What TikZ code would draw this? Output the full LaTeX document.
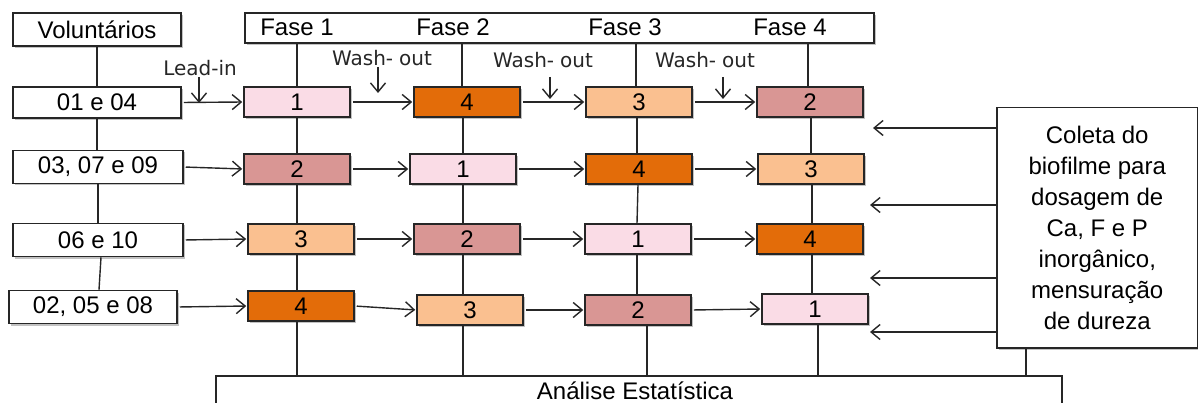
\documentclass[tikz,border=0pt]{standalone}
\usepackage{fontspec}
\setmainfont{Liberation Sans}
\newfontfamily\labfont{DejaVu Sans}
\usetikzlibrary{arrows.meta,shadows}
\definecolor{pk}{HTML}{FADCE6}
\definecolor{rs}{HTML}{D99694}
\definecolor{org}{HTML}{E36C09}
\definecolor{lor}{HTML}{FAC090}
\definecolor{shd}{HTML}{9A9A9A}
\begin{document}
\begin{tikzpicture}[x=1pt,y=-1pt,
  shd/.style={drop shadow={shadow xshift=2pt,shadow yshift=-2pt,fill=shd,opacity=0.6}},
  box/.style={draw=black!85,line width=1.5pt,inner sep=0pt,minimum height=30pt,
    font=\fontsize{24}{28}\selectfont,shd},
  rowbox/.style={box,fill=white,minimum width=168pt,minimum height=32pt},
  ph/.style={box,minimum width=106pt,minimum height=30pt},
  txt/.style={inner sep=0pt,font=\fontsize{24}{28}\selectfont},
  lab/.style={inner sep=1pt,font=\labfont\fontsize{20}{24}\selectfont,text=black!85},
  ln/.style={line width=1.4pt,draw=black!85},
  arr/.style={ln,-{Straight Barb[length=9pt,width=15pt,line width=1.4pt]}}]
\useasboundingbox (0,0) rectangle (1198,403);

% bottom box
\node[draw=black!85,line width=1.5pt,anchor=north west,minimum width=846pt,minimum height=50pt,inner sep=0pt] (bot) at (215,375) {};
\node[txt] (botl) at (635,391) {Análise Estatística};

% right box
\node[draw=black!85,line width=1.5pt,fill=white,anchor=north west,minimum width=201pt,minimum height=240pt,
  inner sep=0pt,align=center,font=\fontsize{24}{31}\selectfont,shd] (rb) at (996,107)
  {Coleta do\\biofilme para\\dosagem de\\Ca, F e P\\inorgânico,\\mensuração\\de dureza};

% header
\node[rowbox,minimum width=629pt,minimum height=30pt] (hdr) at (559.5,28) {};
\node[txt] (f1) at (297,27) {Fase 1};
\node[txt] (f2) at (453,27) {Fase 2};
\node[txt] (f3) at (625,27) {Fase 3};
\node[txt] (f4) at (790,27) {Fase 4};

% left column
\node[rowbox,minimum height=33pt] (v) at (97,29.5) {Voluntários};
\node[rowbox,minimum height=31pt] (r1) at (97,102.5) {01 e 04};
\node[rowbox,minimum width=170pt,minimum height=33pt] (r2) at (98,167) {03, 07 e 09};
\node[rowbox,minimum width=170pt,minimum height=33pt] (r3) at (98,240) {06 e 10};
\node[rowbox,minimum height=33pt] (r4) at (93,307) {02, 05 e 08};

% phase boxes
\node[ph,fill=pk]  (b11) at (297,102) {1};
\node[ph,fill=org] (b12) at (467,102) {4};
\node[ph,fill=lor] (b13) at (639,102) {3};
\node[ph,fill=rs]  (b14) at (810,102) {2};

\node[ph,fill=rs]  (b21) at (297,169) {2};
\node[ph,fill=pk]  (b22) at (463,169) {1};
\node[ph,fill=org] (b23) at (639,169) {4};
\node[ph,fill=lor] (b24) at (811,169) {3};

\node[ph,fill=lor] (b31) at (301,239) {3};
\node[ph,fill=rs]  (b32) at (467,239) {2};
\node[ph,fill=pk]  (b33) at (638,239) {1};
\node[ph,fill=org] (b34) at (810,239) {4};

\node[ph,fill=org] (b41) at (301,306) {4};
\node[ph,fill=lor] (b42) at (470,310) {3};
\node[ph,fill=rs]  (b43) at (638,310) {2};
\node[ph,fill=pk]  (b44) at (815,309) {1};

% left column vertical lines
\draw[ln] (v.south) -- (r1.north);
\draw[ln] (r1.south) -- (r1.south |- r2.north);
\draw[ln] (r2.south) -- (r2.south |- r3.north);
\draw[ln] ([xshift=3pt]r3.south) -- ([xshift=6pt]r4.north);

% phase column lines
\draw[ln] (hdr.south -| b11.north) -- (b11.north);
\draw[ln] (b11.south) -- (b21.north);
\draw[ln] (b21.south) -- (b21.south |- b31.north);
\draw[ln] (b31.south -| b21.south) -- (b41.north -| b21.south);
\draw[ln] (b41.south -| b21.south) -- (bot.north -| b21.south);

\draw[ln] ([xshift=-5pt]hdr.south -| b12.north) -- ([xshift=-5pt]b12.north);
\draw[ln] (b12.south -| b22.south) -- (b22.north);
\draw[ln] (b22.south) -- (b22.south |- b32.north);
\draw[ln] (b32.south -| b22.south) -- (b42.north -| b22.south);
\draw[ln] (b42.south -| b22.south) -- (bot.north -| b22.south);

\draw[ln] ([xshift=-3pt]hdr.south -| b13.north) -- ([xshift=-3pt]b13.north);
\draw[ln] ([xshift=-2pt]b13.south) -- ([xshift=-2pt]b23.north);
\draw[ln] ([xshift=-1pt]b23.south) -- ([xshift=-1pt]b33.north);
\draw[ln] ([xshift=-1pt]b33.south) -- ([xshift=-1pt]b43.north);
\draw[ln] ([xshift=9pt]b43.south) -- ([xshift=9pt]bot.north -| b43.south);

\draw[ln] ([xshift=-2pt]hdr.south -| b14.north) -- ([xshift=-2pt]b14.north);
\draw[ln] ([xshift=1pt]b14.south) -- ([xshift=0pt]b24.north);
\draw[ln] ([xshift=1pt]b24.south) -- ([xshift=2pt]b34.north);
\draw[ln] ([xshift=2pt]b34.south) -- ([xshift=-3pt]b44.north);
\draw[ln] ([xshift=3pt]b44.south) -- ([xshift=3pt]bot.north -| b44.south);

\draw[ln] (rb.south -| 1026,0) -- (bot.north -| 1026,0);

% horizontal arrows
\foreach \a/\b in {r1/b11,b11/b12,b12/b13,b13/b14,
                   r2/b21,b21/b22,b22/b23,b23/b24,
                   r3/b31,b31/b32,b32/b33,b33/b34,
                   r4/b41,b41/b42,b42/b43,b43/b44}
  \draw[arr,shorten <=2pt,shorten >=1pt] (\a.east) -- (\b.west);

% lead-in / wash-out labels
\node[lab] (li) at (200,68) {Lead-in};
\node[lab] (w1) at (382,58) {Wash-\hspace{6pt}out};
\node[lab] (w2) at (543,60) {Wash-\hspace{6pt}out};
\node[lab] (w3) at (705,60) {Wash-\hspace{6pt}out};
\coordinate (lit) at (199,103);
\coordinate (w1t) at (378,93);
\coordinate (w2t) at (550,99);
\coordinate (w3t) at (723,99);
\draw[arr] (li.south -| lit) -- (lit);
\draw[arr] (w1.south -| w1t) -- (w1t);
\draw[arr] ([yshift=-8pt]w2.south -| w2t) -- (w2t);
\draw[arr] ([yshift=-8pt]w3.south -| w3t) -- (w3t);

% arrows from right box
\coordinate (t1) at (873,128);
\coordinate (t2) at (870,205);
\coordinate (t3) at (870,278);
\coordinate (t4) at (870,332);
\foreach \t in {t1,t2,t3,t4}
  \draw[arr] (rb.west |- \t) -- (\t);
\end{tikzpicture}
\end{document}
